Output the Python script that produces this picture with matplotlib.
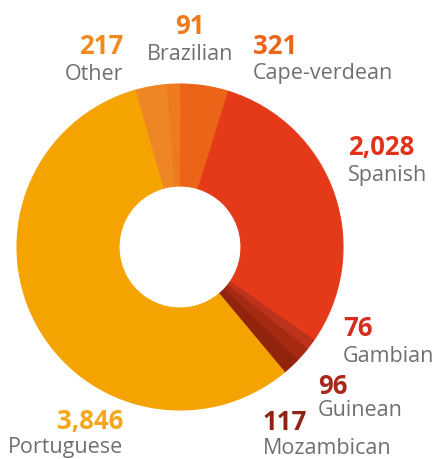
import matplotlib
matplotlib.use("Agg")
import matplotlib.pyplot as plt

# Residents by nationality
nationalities = ["Other", "Brazilian", "Cape-verdean", "Spanish",
                 "Gambian", "Guinean", "Mozambican", "Portuguese"]
counts = [217, 91, 321, 2028, 76, 96, 117, 3846]
wedge_colors = ["#EF8626", "#EE7A1E", "#EB6418", "#E43A1A",
                "#BC321A", "#A62912", "#92240E", "#F5A300"]
value_colors = ["#F28A1F", "#EF7A1A", "#EC6418", "#E3321C",
                "#D42E1E", "#A8281A", "#8E2312", "#F5A71C"]
name_color = "#707070"

W, H = 440, 459
fig = plt.figure(figsize=(W / 100, H / 100), dpi=100)
ax = fig.add_axes([0, 0, 1, 1])

cx, cy = 180, H - 247
r_out, r_in = 163, 61
wedges, _ = ax.pie(counts, colors=wedge_colors, radius=r_out, center=(cx, cy),
                   startangle=106, counterclock=False,
                   wedgeprops=dict(width=r_out - r_in),
                   frame=True)
# paint edges in the fill colour so neighbouring wedges meet without seams
for w in wedges:
    w.set_edgecolor(w.get_facecolor())
    w.set_linewidth(0.8)

ax.set_xlim(0, W)
ax.set_ylim(0, H)
ax.set_aspect("equal")
ax.axis("off")

# label anchors: (x, y of value, y of name, horizontal alignment)
label_pos = {
    "Other": (123, 46, 74, "right"),
    "Brazilian": (190, 26, 55, "center"),
    "Cape-verdean": (253, 46, 74, "left"),
    "Spanish": (348, 147, 176, "left"),
    "Gambian": (343, 328, 356, "left"),
    "Guinean": (318, 386, 410, "left"),
    "Mozambican": (263, 423, 449, "left"),
    "Portuguese": (123, 421, 448, "right"),
}

for name, n, vc in zip(nationalities, counts, value_colors):
    x, yv, yn, ha = label_pos[name]
    ax.text(x, H - yv, f"{n:,}", color=vc, fontsize=18.5, fontweight="bold",
            family="Open Sans", ha=ha, va="center")
    ax.text(x, H - yn, name, color=name_color, fontsize=15.5,
            family="Open Sans", ha=ha, va="center")

fig.savefig("out.png", dpi=100, facecolor="white")
